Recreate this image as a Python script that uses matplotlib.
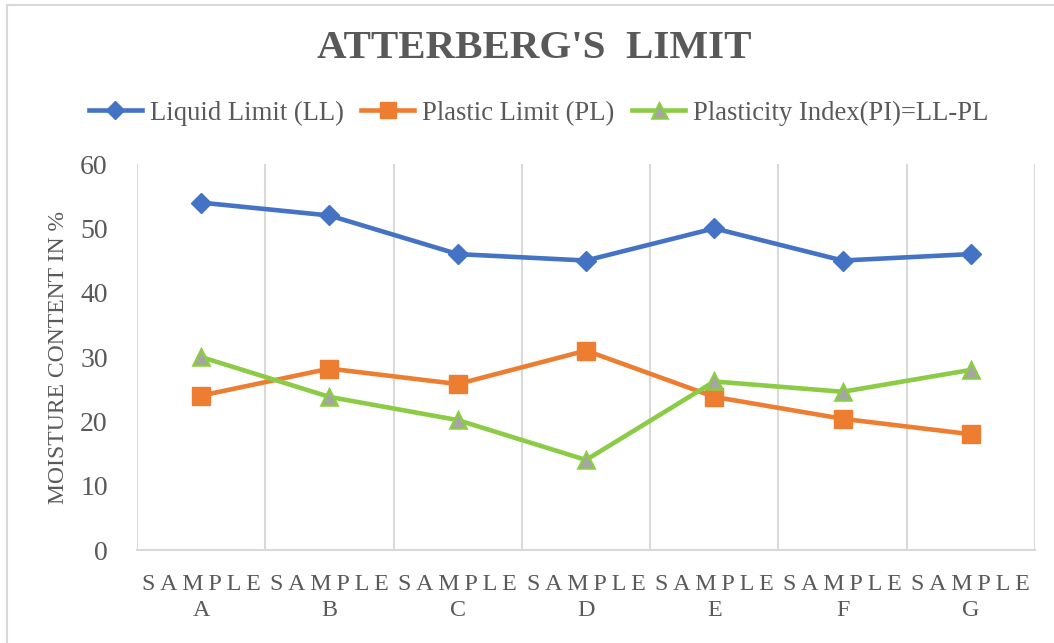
import matplotlib
matplotlib.use("Agg")
import matplotlib.pyplot as plt
from matplotlib.lines import Line2D

# Atterberg limits per sample
samples = ["A", "B", "C", "D", "E", "F", "G"]
liquid_limit = [54, 52, 46, 45, 50, 45, 46]
plastic_limit = [24, 28.2, 25.8, 31, 23.8, 20.4, 18]
plasticity_index = [ll - pl for ll, pl in zip(liquid_limit, plastic_limit)]

yticks = [0, 10, 20, 30, 40, 50, 60]

txt = "#595959"
grid = "#D9D9D9"
plt.rcParams["font.family"] = ["Liberation Serif", "DejaVu Serif"]

fig = plt.figure(figsize=(10.54, 6.43), dpi=100)
ax = fig.add_axes([0.130, 0.1446, 0.852, 0.6003])

x = list(range(len(samples)))
ax.plot(x, liquid_limit, color="#4472C4", lw=3.3, marker="D", ms=10,
        mfc="#4472C4", mec="#4472C4", label="Liquid Limit (LL)", zorder=3)
ax.plot(x, plastic_limit, color="#ED7D31", lw=3.3, marker="s", ms=13,
        mfc="#ED7D31", mec="#ED7D31", label="Plastic Limit (PL)", zorder=3)
ax.plot(x, plasticity_index, color="#8CCB45", lw=3.3, marker="^", ms=12,
        mfc="#A5A5A5", mec="#8CCB45", mew=1.8,
        label="Plasticity Index(PI)=LL-PL", zorder=3)

ax.set_xlim(-0.5, len(samples) - 0.5)
ax.set_ylim(0, 60)
ax.set_yticks(yticks)
ax.set_yticklabels([str(v) for v in yticks], fontsize=20, color=txt)
ax.set_xticks(x)
spaced = "\u2009".join("SAMPLE")
ax.set_xticklabels([spaced + "\n" + s for s in samples], fontsize=17.3,
                   color=txt, linespacing=1.35)
ax.set_xticks([i - 0.5 for i in range(len(samples) + 1)], minor=True)
ax.tick_params(axis="both", which="both", length=0)
ax.tick_params(axis="y", pad=21)
ax.tick_params(axis="x", pad=17)
ax.grid(True, axis="x", which="minor", color=grid, lw=1.5)
ax.grid(False, axis="x", which="major")
for side in ["top", "right", "left"]:
    ax.spines[side].set_visible(False)
ax.spines["bottom"].set_color(grid)
ax.spines["bottom"].set_linewidth(1.5)

fig.text(59 / 1054, 0.4445, "MOISTURE CONTENT IN %", rotation=90,
         ha="center", va="center", fontsize=17, color=txt)

fig.text(0.507, 0.924, "ATTERBERG'S  LIMIT", ha="center", va="center",
         fontsize=29.5, fontweight="bold", color=txt)

fig.legend(loc="center", bbox_to_anchor=(0.511, 0.824), ncol=3, frameon=False,
           fontsize=19.2, labelcolor=txt, handlelength=2.0,
           handletextpad=0.3, columnspacing=0.65, markerscale=0.9)

# outer chart frame
fig.add_artist(Line2D([7 / 1054, 7 / 1054], [0, 1 - 5 / 643],
                      transform=fig.transFigure, color=grid, lw=1.5))
fig.add_artist(Line2D([7 / 1054, 1], [1 - 5 / 643, 1 - 5 / 643],
                      transform=fig.transFigure, color=grid, lw=1.5))

fig.savefig("out.png", dpi=100, facecolor="white")
